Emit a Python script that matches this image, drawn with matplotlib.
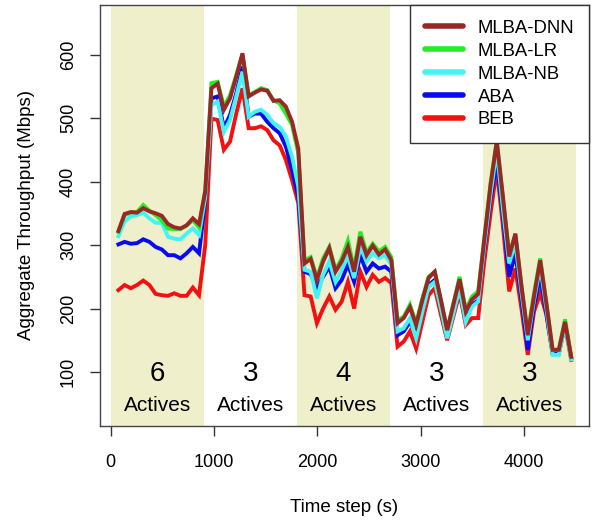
import numpy as np
import matplotlib
matplotlib.use("Agg")
import matplotlib.pyplot as plt

plt.rcParams['font.family'] = ['Liberation Sans', 'DejaVu Sans']

# sampling grid of the throughput traces (one point per minute)
time_s = np.arange(75, 4456, 60)

dnn = [322, 349, 352, 351, 358, 353, 350, 346, 333, 328, 326, 331, 342, 333,
       385,
       547, 554, 513, 531, 565, 602, 534, 540, 545, 543, 527, 528, 518, 494, 452,
       271, 278, 245, 274, 295, 258, 274, 297, 258, 313, 284, 299, 285, 293, 276,
       177, 185, 202, 174, 213, 248, 258, 213, 166, 206, 246, 195, 214, 223,
       310, 395,
       463, 376, 282, 318, 234, 158, 219, 276, 208, 135, 135, 179, 124]
lr = [321, 347, 351, 352, 363, 354, 347, 339, 326, 325, 325, 331, 339, 328,
      385,
      555, 557, 518, 536, 568, 599, 536, 541, 547, 544, 528, 523, 507, 489, 444,
      276, 281, 248, 279, 297, 261, 279, 307, 263, 321, 288, 302, 290, 297, 281,
      182, 187, 206, 177, 216, 250, 258, 213, 166, 208, 250, 198, 219, 227,
      312, 398,
      465, 371, 287, 316, 234, 161, 224, 279, 208, 135, 135, 183, 124]
nb = [314, 337, 345, 347, 351, 342, 335, 335, 313, 310, 309, 318, 326, 316,
      375,
      520, 526, 478, 497, 534, 573, 502, 510, 513, 505, 492, 486, 471, 439, 392,
      261, 258, 216, 253, 274, 242, 261, 282, 248, 297, 274, 287, 279, 284, 269,
      164, 169, 185, 153, 195, 234, 242, 200, 153, 192, 232, 179, 203, 211,
      300, 380,
      450, 355, 271, 303, 224, 150, 213, 266, 200, 127, 127, 174, 120]
aba = [301, 305, 302, 303, 309, 305, 297, 293, 284, 284, 279, 287, 297, 287,
       370,
       531, 534, 484, 505, 539, 581, 502, 507, 507, 494, 484, 476, 455, 418, 376,
       258, 254, 233, 250, 266, 232, 245, 269, 242, 284, 258, 271, 263, 266, 258,
       158, 164, 179, 161, 198, 237, 245, 203, 158, 195, 234, 185, 206, 213,
       295, 372,
       432, 345, 250, 287, 213, 135, 203, 250, 192, 129, 129, 177, 122]
beb = [229, 237, 232, 237, 244, 237, 223, 221, 220, 224, 220, 220, 233, 221,
       300,
       499, 497, 450, 463, 507, 547, 484, 484, 487, 481, 465, 457, 434, 402, 366,
       221, 219, 177, 200, 219, 198, 211, 242, 200, 258, 234, 253, 242, 248, 240,
       140, 148, 164, 137, 179, 221, 232, 190, 150, 187, 224, 174, 185, 185,
       275, 350,
       420, 329, 227, 263, 198, 127, 195, 224, 190, 129, 129, 174, 119]

# phases: start time, number of active stations
phase_start = [0, 900, 1800, 2700, 3600]
phase_len = 900
phase_actives = [6, 3, 4, 3, 3]
phase_shaded = [True, False, True, False, True]

series = [("MLBA-DNN", dnn, '#9a2626'),
          ("MLBA-LR", lr, '#22ee22'),
          ("MLBA-NB", nb, '#44f4f4'),
          ("ABA", aba, '#0a0aee'),
          ("BEB", beb, '#f21010')]

fig = plt.figure(figsize=(5.92, 5.2), dpi=100)
ax = fig.add_axes([100/592, 94/520, 489/592, 421/520])

for start, shaded in zip(phase_start, phase_shaded):
    if shaded:
        ax.axvspan(start, start + phase_len, color='#f0efcc', lw=0, zorder=0)

# draw the baselines first so MLBA-DNN ends on top
handles = {}
for name, vals, col in reversed(series):
    handles[name], = ax.plot(time_s, vals, color=col, lw=2.8, solid_joinstyle='miter',
                             zorder=2, label=name)

for start, n in zip(phase_start, phase_actives):
    mid = start + phase_len / 2
    ax.text(mid, 97, str(n), ha='center', va='center', fontsize=20, zorder=3)
    ax.text(mid, 48, 'Actives', ha='center', va='center', fontsize=15, zorder=3)

ax.set_xlim(-103, 4627)
ax.set_ylim(15, 678)
ax.set_xticks([0, 1000, 2000, 3000, 4000])
ax.set_yticks([100, 200, 300, 400, 500, 600])
ax.tick_params(axis='both', length=7.5, width=1, labelsize=13, color='#333333')
ax.tick_params(axis='x', pad=13)
ax.tick_params(axis='y', pad=9, labelrotation=90)
for lbl in ax.get_yticklabels():
    lbl.set_va('center')

for sp in ax.spines.values():
    sp.set_color('#444444')
    sp.set_linewidth(1)

ax.set_xlabel('Time step (s)', fontsize=13.5, labelpad=20)
ax.set_ylabel('Aggregate Throughput (Mbps)', fontsize=13.5, labelpad=18)

leg = ax.legend([handles[s[0]] for s in series], [s[0] for s in series],
                loc='upper right', borderaxespad=0, fontsize=13.3,
                handlelength=2.05, handletextpad=0.8, labelspacing=0.32,
                borderpad=0.8, fancybox=False, framealpha=1, edgecolor='#333333')
leg.get_frame().set_linewidth(1)
for line in leg.get_lines():
    line.set_linewidth(4)
    line.set_solid_capstyle('round')

fig.savefig('out.png', dpi=100)
